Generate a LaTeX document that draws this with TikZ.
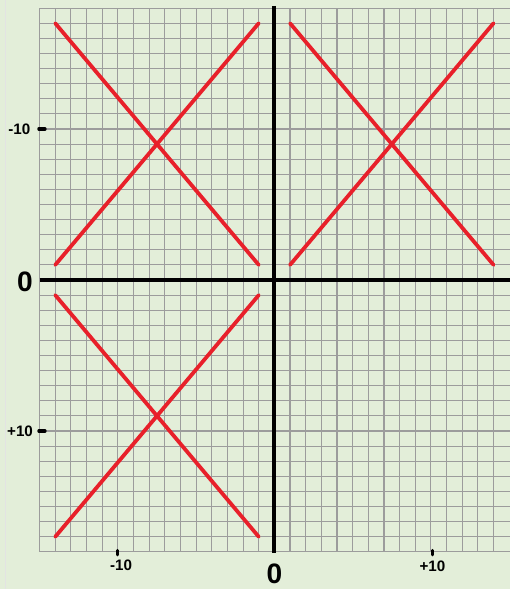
\documentclass[tikz,border=0pt]{standalone}
\usepackage{fontspec}
\setmainfont{Liberation Sans}
\usetikzlibrary{positioning}

\definecolor{paper}{HTML}{E3EED9}
\definecolor{gridgray}{HTML}{9C9C9C}
\definecolor{crossred}{HTML}{E8202A}

\begin{document}
\begin{tikzpicture}[x=0.39125cm,y=0.3775cm,
	axis line/.style={line width=2.8pt},
	cross line/.style={crossred,line width=2.7pt,line cap=round},
	tick mark/.style={line width=2.2pt,line cap=round},
	tick label/.style={font=\bfseries\fontsize{10.8}{12}\selectfont,inner sep=0pt},
	zero label/.style={font=\bfseries\fontsize{20}{22}\selectfont,inner sep=0pt}]
	
	% paper and frame
	\fill[paper] (-17.53,-20.46) rectangle (15.06,18.54);
	\useasboundingbox (-17.53,-20.46) rectangle (15.06,18.54);
	\draw[gray!22,line width=0.6pt] (-17.2,-20.46) -- (-17.2,18.54);
	\draw[gridgray,line width=0.8pt,step=1] (-15,-18) grid (14.5,18);
	\draw[gridgray,line width=0.8pt,xstep=100,ystep=1] (14.5,-18) grid (15.06,18);
	
	% axes
	\coordinate (xl) at (-15,0);
	\coordinate (xr) at (15.06,0);
	\coordinate (yt) at (0,18.15);
	\coordinate (yb) at (0,-18.06);
	\draw[axis line] (xl) -- (xr);
	\draw[axis line] (yt) -- (yb);
	
	% crosses
	\coordinate (a1) at (-14,17);
	\coordinate (a2) at (-1,1);
	\coordinate (a3) at (-14,1);
	\coordinate (a4) at (-1,17);
	\coordinate (b1) at (1,17);
	\coordinate (b2) at (14,1);
	\coordinate (b3) at (1,1);
	\coordinate (b4) at (14,17);
	\coordinate (c1) at (-14,-1);
	\coordinate (c2) at (-1,-17);
	\coordinate (c3) at (-14,-17);
	\coordinate (c4) at (-1,-1);
	\draw[cross line] (a1) -- (a2);
	\draw[cross line] (a3) -- (a4);
	\draw[cross line] (b1) -- (b2);
	\draw[cross line] (b3) -- (b4);
	\draw[cross line] (c1) -- (c2);
	\draw[cross line] (c3) -- (c4);
	
	% ticks
	\coordinate (ty1) at (-15.05,10);
	\coordinate (ty2) at (-14.65,10);
	\coordinate (ty3) at (-15.05,-10);
	\coordinate (ty4) at (-14.65,-10);
	\coordinate (tx1) at (-10,-17.9);
	\coordinate (tx2) at (-10,-18.2);
	\coordinate (tx3) at (10.1,-17.9);
	\coordinate (tx4) at (10.1,-18.2);
	\draw[tick mark] (ty1) -- (ty2);
	\draw[tick mark] (ty3) -- (ty4);
	\draw[tick mark] (tx1) -- (tx2);
	\draw[tick mark] (tx3) -- (tx4);
	
	% labels
	\node[tick label] (ym) at (-16.3,10) {-10};
	\node[tick label] (yp) at (-16.25,-10) {+10};
	\node[zero label] (y0) at (-15.93,-0.1) {0};
	\node[tick label] (xm) at (-9.8,-18.87) {-10};
	\node[tick label] (xp) at (10.1,-18.94) {+10};
	\node[zero label] (x0) at (0,-19.47) {0};
\end{tikzpicture}
\end{document}
